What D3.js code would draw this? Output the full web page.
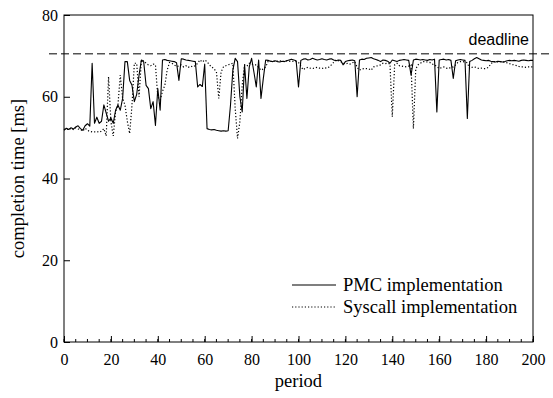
<!DOCTYPE html>
<html>
<head>
<meta charset="utf-8">
<script src="https://cdn.jsdelivr.net/npm/d3@7"></script>
<style>
  body { margin: 0; background: #fff; }
  svg { display: block; }
</style>
</head>
<body>
<div id="chart"></div>
<script>
/* ----------  DATA  ---------- */
const pmcValues = [
  51.8, 52.3, 52.0, 52.4, 52.1, 52.6, 52.9, 52.2, 51.8, 52.9,
  53.4, 52.8, 68.2, 53.5, 55.0, 53.5, 54.0, 58.0, 56.0, 54.0,
  54.8, 53.5, 56.7, 58.0, 56.7, 59.6, 68.6, 68.6, 64.0, 62.8,
  58.8, 60.6, 65.3, 69.0, 68.5, 62.8, 62.0, 57.1, 58.8, 53.0,
  62.0, 56.7, 69.0, 69.1, 68.9, 68.8, 68.7, 68.6, 68.3, 64.0,
  69.3, 69.2, 69.0, 68.9, 68.8, 68.7, 68.6, 62.4, 63.0, 62.5,
  68.0, 52.2, 52.0, 51.9, 52.0, 51.8, 51.7, 51.6, 51.7, 51.6,
  51.7, 58.0, 66.5, 69.4, 68.6, 60.0, 56.3, 67.8, 59.6, 67.3,
  69.4, 66.0, 62.4, 69.0, 59.6, 64.5, 69.0, 68.9, 68.7, 68.6,
  68.8, 68.6, 68.5, 68.7, 68.6, 68.8, 69.0, 69.2, 69.0, 68.8,
  62.4, 68.9, 69.2, 69.3, 69.0, 69.1, 69.4, 69.2, 69.0, 69.1,
  69.3, 69.1, 69.0, 69.2, 69.3, 69.0, 68.8, 69.0, 68.9, 67.8,
  68.6, 68.8, 68.9, 69.0, 68.8, 60.0, 69.0, 69.2, 69.1, 69.4,
  69.5, 69.6, 69.3, 69.1, 68.9, 68.6, 69.0, 68.9, 68.7, 68.2,
  69.0, 68.8, 68.6, 68.9, 69.0, 69.1, 69.0, 68.9, 65.3, 69.0,
  69.2, 69.1, 69.0, 69.1, 69.0, 68.9, 69.1, 69.0, 69.2, 56.3,
  69.0, 69.1, 69.2, 69.0, 69.1, 68.9, 64.5, 68.8, 69.0, 69.1,
  69.0, 68.9, 54.7, 68.6, 68.9, 69.3, 69.6, 69.3, 69.0, 68.9,
  68.8, 68.9, 68.7, 68.6, 68.5, 68.7, 68.6, 68.5, 68.6, 68.8,
  68.9, 68.8, 68.9, 68.8, 68.7, 68.9, 69.0, 68.9, 68.8, 68.9,
  68.9
]

const syscallValues = [
  52.0, 52.2, 51.9, 52.3, 52.0, 52.4, 52.1, 52.0, 51.6, 52.3,
  51.8, 51.5, 51.4, 51.4, 51.5, 51.3, 51.6, 52.2, 50.4, 64.9,
  53.9, 50.4, 56.3, 58.0, 65.3, 59.6, 58.0, 54.0, 51.0, 58.0,
  68.2, 68.2, 60.0, 69.0, 68.8, 68.2, 67.8, 67.6, 68.0, 67.8,
  60.0, 59.2, 61.3, 62.8, 66.5, 68.4, 68.2, 67.8, 67.4, 67.5,
  67.8, 67.3, 67.6, 67.2, 67.5, 67.3, 67.6, 68.2, 69.0, 68.5,
  69.0, 68.6, 67.8, 67.3, 66.8, 66.1, 59.6, 66.1, 67.3, 67.6,
  67.8, 68.0, 68.2, 57.2, 49.8, 53.9, 62.8, 67.8, 67.5, 68.2,
  68.0, 67.8, 67.8, 67.2, 66.5, 66.8, 67.3, 68.6, 68.7, 68.8,
  68.6, 68.7, 68.8, 68.6, 68.7, 68.8, 68.7, 68.6, 68.7, 68.6,
  68.4, 67.5, 66.6, 67.0, 67.2, 67.0, 66.9, 67.1, 67.2, 67.0,
  66.9, 67.1, 67.0, 67.3, 67.8, 68.4, 69.0, 68.8, 68.6, 68.2,
  68.0, 68.2, 68.0, 68.3, 68.6, 67.2, 66.5, 66.8, 66.9, 66.9,
  66.8, 66.5, 67.3, 67.5, 67.6, 67.8, 68.2, 68.1, 68.2, 68.0,
  55.1, 67.8, 68.2, 67.6, 67.5, 67.4, 67.3, 67.5, 67.8, 52.2,
  66.8, 67.8, 68.2, 68.6, 68.6, 68.5, 68.4, 68.0, 67.8, 67.4,
  66.9, 67.1, 67.3, 67.0, 66.9, 67.2, 67.3, 67.8, 68.4, 68.6,
  68.6, 68.5, 68.3, 66.9, 67.2, 67.3, 67.1, 66.9, 67.0, 66.9,
  66.9, 67.2, 68.0, 68.6, 68.6, 68.5, 68.6, 68.6, 68.4, 68.3,
  68.1, 67.9, 67.8, 67.6, 67.4, 67.3, 67.3, 67.2, 67.3, 67.3,
  67.3
]

const periods = pmcValues.map((v, i) => i)
const xTicks = [0, 20, 40, 60, 80, 100, 120, 140, 160, 180, 200]
const xMinorTicks = d3.range(0, 201, 5)
const yTicks = [0, 20, 40, 60, 80]
const deadline = 70.5
const seriesNames = ['PMC implementation', 'Syscall implementation']

/* ----------  CONSTANTS  ---------- */
const W = 553
const H = 398
const margin = { left: 64, right: 20, top: 15, bottom: 56 }
const serif = 'Liberation Serif, Times New Roman, serif'

const svg = d3.select('#chart').append('svg')
  .attr('width', W)
  .attr('height', H)

const x = d3.scaleLinear()
  .domain([0, 200])
  .range([margin.left, W - margin.right])

const y = d3.scaleLinear()
  .domain([0, 80])
  .range([H - margin.bottom, margin.top])

/* ----------  FRAME & AXES  ---------- */
svg.append('rect')
  .attr('x', x(0))
  .attr('y', y(80))
  .attr('width', x(200) - x(0))
  .attr('height', y(0) - y(80))
  .attr('fill', 'none')
  .attr('stroke', '#000')
  .attr('stroke-width', 1)

// bottom axis, ticks point inward
const xAxis = svg.append('g')
  .attr('transform', `translate(0, ${y(0)})`)
  .call(d3.axisBottom(x).tickValues(xTicks).tickSize(-6).tickPadding(12).tickFormat(d3.format('d')))
xAxis.append('g')
  .selectAll('line')
  .data(xMinorTicks)
  .join('line')
  .attr('x1', d => x(d))
  .attr('x2', d => x(d))
  .attr('y1', 0)
  .attr('y2', -3)
  .attr('stroke', '#000')

svg.append('g')
  .attr('transform', `translate(${x(0)}, 0)`)
  .call(d3.axisLeft(y).tickValues(yTicks).tickSize(-6).tickPadding(6))

svg.selectAll('.domain').remove()
svg.selectAll('.tick line').attr('stroke', '#000')
svg.selectAll('.tick text')
  .style('font-family', serif)
  .style('font-size', '16px')
  .attr('fill', '#000')

svg.append('text')
  .attr('x', (x(0) + x(200)) / 2)
  .attr('y', 387)
  .attr('text-anchor', 'middle')
  .style('font-family', serif)
  .style('font-size', '18.5px')
  .text('period')

svg.append('text')
  .attr('transform', `translate(24, ${(y(0) + y(80)) / 2}) rotate(-90)`)
  .attr('text-anchor', 'middle')
  .style('font-family', serif)
  .style('font-size', '18.5px')
  .text('completion time [ms]')

/* ----------  DEADLINE  ---------- */
svg.append('line')
  .attr('x1', 49)
  .attr('x2', W)
  .attr('y1', y(deadline))
  .attr('y2', y(deadline))
  .attr('stroke', '#000')
  .attr('stroke-width', 1)
  .attr('stroke-dasharray', '8,4')

svg.append('text')
  .attr('x', x(200) - 4)
  .attr('y', y(deadline) - 9)
  .attr('text-anchor', 'end')
  .style('font-family', 'Liberation Sans, Arial, sans-serif')
  .style('font-size', '16px')
  .text('deadline')

/* ----------  LINES  ---------- */
const line = d3.line()
  .x(d => x(d[0]))
  .y(d => y(d[1]))

svg.append('path')
  .datum(periods.map(p => [p, syscallValues[p]]))
  .attr('fill', 'none')
  .attr('stroke', '#000')
  .attr('stroke-width', 1.2)
  .attr('stroke-dasharray', '1.2,2')
  .attr('d', line)

svg.append('path')
  .datum(periods.map(p => [p, pmcValues[p]]))
  .attr('fill', 'none')
  .attr('stroke', '#000')
  .attr('stroke-width', 1.1)
  .attr('stroke-linejoin', 'round')
  .attr('d', line)

/* ----------  LEGEND  ---------- */
const legend = svg.append('g')
  .attr('transform', 'translate(292, 285)')

seriesNames.forEach((name, i) => {
  const item = legend.append('g')
    .attr('transform', `translate(0, ${i * 22})`)
  item.append('line')
    .attr('x1', 0)
    .attr('x2', 44)
    .attr('stroke', '#000')
    .attr('stroke-width', 1.1)
    .attr('stroke-dasharray', i === 0 ? null : '1.2,2')
  item.append('text')
    .attr('x', 51)
    .attr('y', 6)
    .style('font-family', serif)
    .style('font-size', '18.5px')
    .text(name)
})
</script>
</body>
</html>
